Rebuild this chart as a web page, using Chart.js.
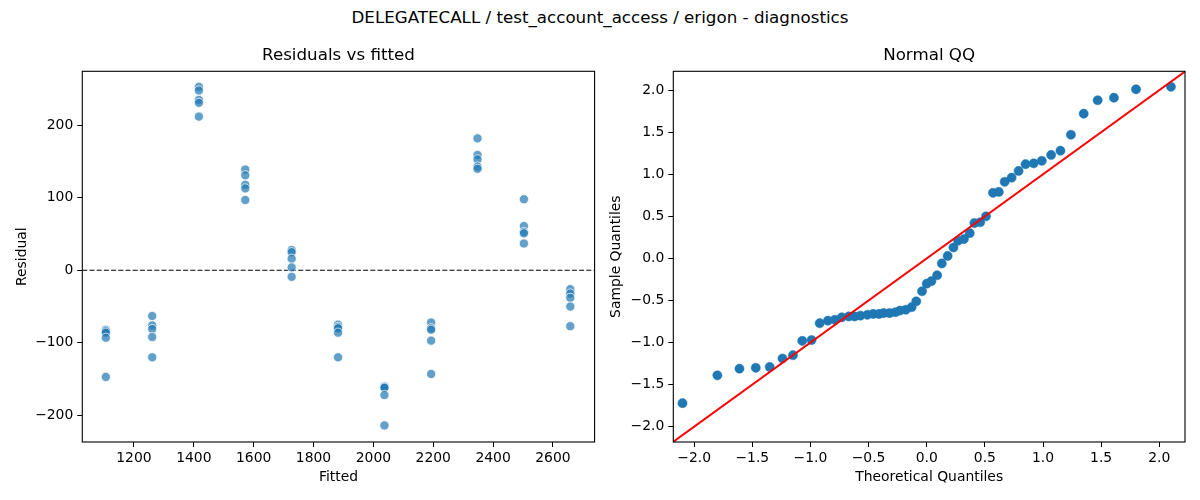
<!DOCTYPE html>
<html>
<head>
  <title>DELEGATECALL diagnostics</title>
  <script src="https://cdn.jsdelivr.net/npm/chart.js@4.4.0/dist/chart.umd.min.js"></script>
  <style>
    body { margin: 0; background: #fff; width: 1200px; height: 500px; position: relative; overflow: hidden; }
    #suptitle {
      position: absolute; top: 7px; left: 0; width: 1200px; text-align: center;
      font-family: "DejaVu Sans", sans-serif; font-size: 16.7px; color: #000; line-height: 20px;
    }
    canvas { position: absolute; top: 0; }
    #resid { left: 0; }
    #qq { left: 600px; }
  </style>
</head>
<body>

<div id="suptitle">DELEGATECALL / test_account_access / erigon - diagnostics</div>
<canvas id="resid" width="600" height="500"></canvas>
<canvas id="qq" width="600" height="500"></canvas>

<script>
  // residuals vs fitted: one fitted level per group, five residuals each
  const fittedLevels = [1106, 1261, 1417, 1572, 1727, 1882, 2037, 2193, 2348, 2503, 2658];
  const residualGroups = [
    [-82, -84, -86, -93, -147],
    [-63, -76, -81, -92, -120],
    [253, 248, 235, 231, 212],
    [139, 131, 118, 113, 97],
    [28, 25, 16, 4, -9],
    [-75, -78, -80, -86, -120],
    [-160, -161, -162, -172, -214],
    [-72, -80, -82, -97, -143],
    [182, 159, 153, 143, 140],
    [98, 61, 53, 51, 37],
    [-26, -32, -38, -50, -77]
  ];
  const fittedRange = [1027.4, 2739.2];
  const residRange = [-236.8, 274.5];

  // normal QQ
  const theoQuantiles = [-2.10, -1.80, -1.61, -1.47, -1.35, -1.24, -1.15, -1.07, -0.99, -0.92,
    -0.85, -0.79, -0.73, -0.67, -0.62, -0.57, -0.51, -0.46, -0.41, -0.37,
    -0.32, -0.27, -0.23, -0.18, -0.13, -0.09, -0.04, 0.00, 0.04, 0.09,
    0.13, 0.18, 0.23, 0.27, 0.32, 0.37, 0.41, 0.46, 0.51, 0.57,
    0.62, 0.67, 0.73, 0.79, 0.85, 0.92, 0.99, 1.07, 1.15, 1.24,
    1.35, 1.47, 1.61, 1.80, 2.10];
  const sampleQuantiles = [-1.72, -1.39, -1.31, -1.30, -1.29, -1.19, -1.15, -0.98, -0.97, -0.77,
    -0.74, -0.73, -0.70, -0.69, -0.69, -0.68, -0.67, -0.66, -0.66, -0.65,
    -0.65, -0.64, -0.62, -0.61, -0.58, -0.51, -0.39, -0.30, -0.27, -0.20,
    -0.06, 0.03, 0.13, 0.21, 0.23, 0.30, 0.42, 0.43, 0.50, 0.78,
    0.79, 0.91, 0.96, 1.04, 1.12, 1.13, 1.16, 1.23, 1.28, 1.47,
    1.72, 1.88, 1.91, 2.01, 2.04];
  const qqXRange = [-2.179, 2.221];
  const qqYRange = [-2.182, 2.224];
  const qqLine = [-2.19, 2.23];

  const FONT = "DejaVu Sans";
  Chart.defaults.font.family = FONT;
  Chart.defaults.color = '#000';

  function minusSign(s) {
    return String(s).replace('-', '\u2212');
  }

  // box around the plot area + title above it
  const framePlugin = {
    id: 'frame',
    afterDraw(chart, args, opts) {
      const a = chart.chartArea;
      const ctx = chart.ctx;
      ctx.save();
      ctx.strokeStyle = '#000';
      ctx.lineWidth = 1.1;
      ctx.strokeRect(a.left, a.top, a.right - a.left, a.bottom - a.top);
      ctx.fillStyle = '#000';
      ctx.font = '16.7px "' + FONT + '"';
      ctx.textAlign = 'center';
      ctx.textBaseline = 'middle';
      ctx.fillText(opts.text, (a.left + a.right) / 2, 56);
      ctx.restore();
    }
  };

  function axis(min, max, step, label, isY, fixedSize, titlePad, fmt) {
    return {
      type: 'linear',
      min: min,
      max: max,
      grid: { display: true, drawOnChartArea: false, drawTicks: true, tickLength: 5, color: '#000', lineWidth: 1 },
      border: { display: false },
      ticks: {
        stepSize: step,
        includeBounds: false,
        padding: isY ? 4 : 3,
        font: { size: 13.9 },
        color: '#000',
        callback: fmt
      },
      title: {
        display: true,
        text: label,
        font: { size: 13.9 },
        color: '#000',
        padding: isY ? { top: titlePad, bottom: 0 } : { top: 0, bottom: titlePad }
      },
      afterFit(scale) {
        if (isY) scale.width = fixedSize; else scale.height = fixedSize;
      }
    };
  }

  const residPoints = [];
  fittedLevels.forEach(function (f, i) {
    residualGroups[i].forEach(function (r) { residPoints.push({ x: f, y: r }); });
  });

  new Chart(document.getElementById('resid').getContext('2d'), {
    type: 'scatter',
    data: {
      datasets: [
        {
          data: residPoints,
          pointRadius: 4.6,
          pointBackgroundColor: 'rgba(31,119,180,0.7)',
          pointBorderColor: 'rgba(255,255,255,0.9)',
          pointBorderWidth: 0.8,
          order: 1
        },
        {
          type: 'line',
          data: [{ x: fittedRange[0], y: 0 }, { x: fittedRange[1], y: 0 }],
          borderColor: '#000',
          borderWidth: 1.1,
          borderDash: [5, 2.2],
          pointRadius: 0,
          order: 2
        }
      ]
    },
    options: {
      responsive: false,
      animation: false,
      devicePixelRatio: 1,
      layout: { padding: { top: 71.3, right: 5, left: 0, bottom: 0 } },
      plugins: { legend: { display: false }, tooltip: { enabled: false }, frame: { text: 'Residuals vs fitted' } },
      scales: {
        x: axis(fittedRange[0], fittedRange[1], 200, 'Fitted', false, 58, 14.3, v => minusSign(v)),
        y: axis(residRange[0], residRange[1], 100, 'Residual', true, 82.3, 13.6, v => minusSign(v))
      }
    },
    plugins: [framePlugin]
  });

  const qqPoints = theoQuantiles.map((t, i) => ({ x: t, y: sampleQuantiles[i] }));

  new Chart(document.getElementById('qq').getContext('2d'), {
    type: 'scatter',
    data: {
      datasets: [
        {
          data: qqPoints,
          pointRadius: 4.6,
          pointBackgroundColor: '#1f77b4',
          pointBorderColor: '#1f77b4',
          pointBorderWidth: 0.5,
          order: 2
        },
        {
          type: 'line',
          data: [{ x: qqLine[0], y: qqLine[0] }, { x: qqLine[1], y: qqLine[1] }],
          borderColor: '#ff0000',
          borderWidth: 2,
          pointRadius: 0,
          clip: 0,
          order: 1
        }
      ]
    },
    options: {
      responsive: false,
      animation: false,
      devicePixelRatio: 1,
      layout: { padding: { top: 71.3, right: 15, left: 0, bottom: 0 } },
      plugins: { legend: { display: false }, tooltip: { enabled: false }, frame: { text: 'Normal QQ' } },
      scales: {
        x: axis(qqXRange[0], qqXRange[1], 0.5, 'Theoretical Quantiles', false, 58, 14.3, v => minusSign(v.toFixed(1))),
        y: axis(qqYRange[0], qqYRange[1], 0.5, 'Sample Quantiles', true, 73.3, 7.6, v => minusSign(v.toFixed(1)))
      }
    },
    plugins: [framePlugin]
  });
</script>

</body>
</html>
